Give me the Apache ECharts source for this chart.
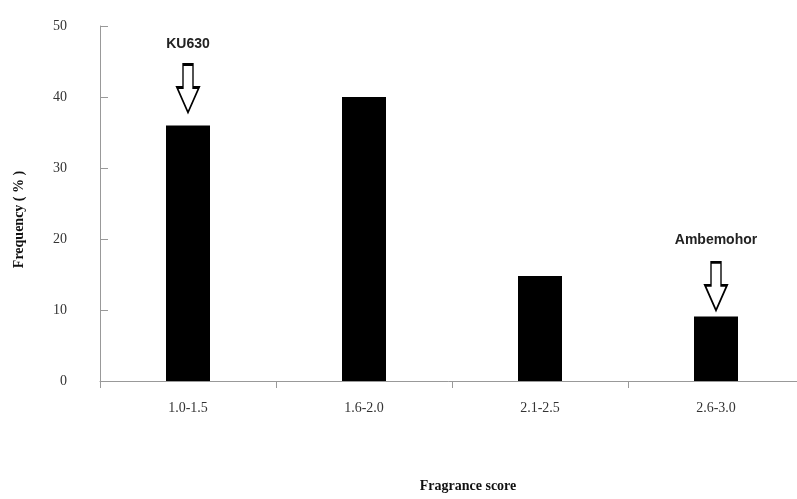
<!DOCTYPE html>
<html><head><meta charset="utf-8">
<script src="https://cdn.jsdelivr.net/npm/echarts@6/dist/echarts.min.js"></script>
<style>html,body{margin:0;padding:0;background:#fff}#c{width:797px;height:499px}</style>
</head><body><div id="c"></div>
<script>
const categories = ['1.0-1.5', '1.6-2.0', '2.1-2.5', '2.6-3.0'];
const frequency = [36, 40, 14.8, 9.1];
const yTicks = [0, 10, 20, 30, 40, 50];
const annotations = [
  { category: '1.0-1.5', value: 36, label: 'KU630', gap: 13 },
  { category: '2.6-3.0', value: 9.1, label: 'Ambemohor', gap: 6 }
];

const arrowPath = 'path://M6,0 L16,0 L16,23 L22,23 L11,48 L0,23 L6,23 Z';
const chart = echarts.init(document.getElementById('c'));
chart.setOption({
  animation: false,
  backgroundColor: '#fff',
  grid: { left: 100, width: 704, top: 26, height: 355, outerBoundsMode: 'none', containLabel: false },
  xAxis: {
    type: 'category',
    data: categories,
    name: 'Fragrance score',
    nameLocation: 'middle',
    nameGap: 98,
    nameTextStyle: { fontFamily: 'Liberation Serif', fontWeight: 'bold', fontSize: 14, color: '#111', padding: [0, 0, 0, 32] },
    axisLine: { lineStyle: { color: '#999', width: 1 } },
    axisTick: { show: true, length: 7, lineStyle: { color: '#999' } },
    axisLabel: { margin: 20, fontFamily: 'Liberation Serif', fontSize: 14, color: '#333' },
    splitLine: { show: false }
  },
  yAxis: {
    type: 'value',
    min: yTicks[0],
    max: yTicks[yTicks.length - 1],
    interval: 10,
    name: 'Frequency ( % )',
    nameLocation: 'middle',
    nameGap: 74,
    nameTextStyle: { fontFamily: 'Liberation Serif', fontWeight: 'bold', fontSize: 14, color: '#111', padding: [0, 32, 0, 0] },
    axisLine: { show: true, lineStyle: { color: '#999', width: 1 } },
    axisTick: { show: true, inside: true, length: 8, lineStyle: { color: '#999' } },
    axisLabel: { margin: 33, fontFamily: 'Liberation Serif', fontSize: 14, color: '#333' },
    splitLine: { show: false }
  },
  series: [{
    type: 'bar',
    data: frequency,
    barWidth: 44,
    itemStyle: { color: '#000' },
    markPoint: {
      symbol: arrowPath,
      symbolSize: [22, 48],
      symbolKeepAspect: false,
      itemStyle: { color: '#fff', borderColor: '#000', borderWidth: 2 },
      label: {
        show: true,
        position: 'top',
        distance: 12,
        fontFamily: 'Liberation Sans',
        fontWeight: 'bold',
        fontSize: 14,
        color: '#222',
        formatter: p => p.name
      },
      data: annotations.map(a => ({
        name: a.label,
        coord: [a.category, a.value],
        symbolOffset: [0, -(a.gap + 24)],
        label: a.label === 'Ambemohor' ? { distance: 14 } : {}
      }))
    }
  }]
});
</script></body></html>
